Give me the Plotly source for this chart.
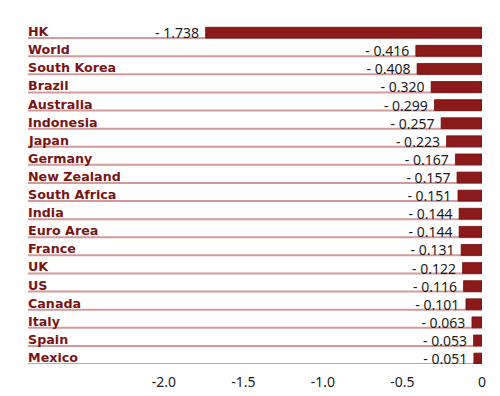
import plotly.graph_objects as go

countries = ["HK", "World", "South Korea", "Brazil", "Australia", "Indonesia", "Japan",
             "Germany", "New Zealand", "South Africa", "India", "Euro Area", "France",
             "UK", "US", "Canada", "Italy", "Spain", "Mexico"]
values = [-1.738, -0.416, -0.408, -0.320, -0.299, -0.257, -0.223, -0.167, -0.157,
          -0.151, -0.144, -0.144, -0.131, -0.122, -0.116, -0.101, -0.063, -0.053, -0.051]
tick_vals = [-2.0, -1.5, -1.0, -0.5, 0]
tick_text = ["-2.0", "-1.5", "-1.0", "-0.5", "0"]

idx = list(range(len(countries)))
labels = [f"- {abs(v):.3f} " for v in values]

fig = go.Figure()
fig.add_trace(go.Bar(
    x=values, y=idx, orientation="h",
    width=0.6, offset=-0.1,
    marker=dict(color="#8c1a1a", line=dict(color="#6e1010", width=0.8)),
    text=labels, textposition="outside", cliponaxis=False, constraintext="none",
    textfont=dict(family="Noto Sans", size=14, color="#1a1a1a"),
    hoverinfo="skip",
))

shapes = []
for i in idx:
    shapes.append(dict(type="line", xref="paper", x0=0, x1=1, yref="y", y0=i + 0.5, y1=i + 0.5,
                       line=dict(color="#d49a9a", width=2), layer="below"))

annotations = []
for i, c in zip(idx, countries):
    annotations.append(dict(xref="paper", x=0, yref="y", y=i + 0.5, text=f"<b>{c}</b>",
                            xanchor="left", yanchor="bottom", showarrow=False,
                            xshift=-2, yshift=-3,
                            font=dict(family="DejaVu Sans", size=12.7, color="#7a1414")))

fig.update_layout(
    width=500, height=396,
    margin=dict(l=28, r=18, t=20, b=32),
    paper_bgcolor="white", plot_bgcolor="white",
    showlegend=False,
    shapes=shapes, annotations=annotations,
    xaxis=dict(range=[-2.855, 0], tickvals=tick_vals, ticktext=tick_text,
               showgrid=False, zeroline=False, showline=False, ticks="",
               ticklabelstandoff=8, automargin=False,
               tickfont=dict(family="Noto Sans", size=14, color="#1a1a1a")),
    yaxis=dict(range=[len(countries) - 0.5, -0.5], showgrid=False, zeroline=False,
               showticklabels=False, ticks="", showline=False, automargin=False),
)

fig.write_html("out.html", config={"displayModeBar": False},
               post_script="document.body.style.margin='0';document.body.style.overflow='hidden';")
